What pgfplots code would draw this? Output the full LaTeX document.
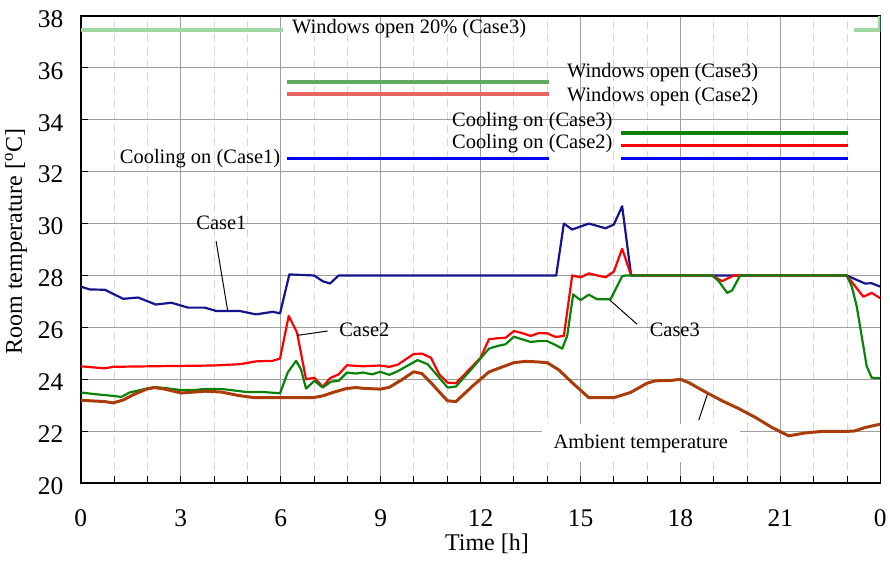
\documentclass[border=0pt]{standalone}
\usepackage{pgfplots}
\pgfplotsset{compat=1.18}
\usepackage{fontspec}
\setmainfont{Liberation Serif}
\definecolor{cnavy}{RGB}{20,20,140}
\definecolor{cred}{RGB}{255,0,0}
\definecolor{cgreen}{RGB}{10,130,10}
\definecolor{cbrown}{RGB}{170,60,10}
\definecolor{winA}{RGB}{160,215,160}
\definecolor{winB}{RGB}{95,170,95}
\definecolor{winC}{RGB}{232,100,100}
\begin{document}
\begin{tikzpicture}
\begin{axis}[
  scale only axis, width=801pt, height=468pt,
  xmin=0, xmax=24, ymin=20, ymax=38,
  xtick={0,3,...,24}, xticklabels={0,3,6,9,12,15,18,21,0},
  minor x tick num=2,
  ytick={20,22,...,38},
  tick pos=left,
  major tick length=7pt, minor tick length=7pt,
  every tick/.style={black, line width=1pt},
  grid=both,
  major grid style={draw=black!38, line width=1.1pt},
  minor grid style={draw=black!16, line width=1pt, dash pattern=on 8pt off 5pt},
  axis line style={black, line width=1.6pt},
  tick label style={font=\fontsize{25.5}{25.5}\selectfont},
  /pgf/number format/assume math mode=true,
  xticklabel style={yshift=-23pt},
  yticklabel style={xshift=-14pt, yshift=-3pt},
  xlabel={Time [h]},
  ylabel={Room temperature [\textsuperscript{o}C]},
  label style={font=\fontsize{24}{24}\selectfont},
  xlabel style={at={(axis description cs:0.508,-0.131)}, anchor=center},
  ylabel style={at={(axis description cs:-0.0811,0.517)}, anchor=center},
  every axis plot/.append style={line join=round},
]
% schedule lines
\addplot[winA, line width=4pt] coordinates {(0,37.46) (6.06,37.46)};
\addplot[winA, line width=4pt] coordinates {(23.2,37.46) (24,37.46) (24,38)};
\addplot[winB, line width=4pt] coordinates {(6.2,35.47) (14.05,35.47)};
\addplot[winC, line width=4.5pt] coordinates {(6.2,34.99) (14.05,34.99)};
\addplot[blue, line width=3.5pt] coordinates {(6.2,32.5) (14.05,32.5)};
\addplot[blue, line width=3.5pt] coordinates {(16.23,32.5) (23.02,32.5)};
\addplot[cred, line width=3.5pt] coordinates {(16.23,33.01) (23.02,33.01)};
\addplot[cgreen, line width=3.5pt] coordinates {(16.23,33.49) (23.02,33.49)};
% Case1
\addplot[cnavy, line width=2.2pt] table {
0 27.57
0.27 27.46
0.72 27.45
1.27 27.10
1.72 27.15
2.25 26.88
2.72 26.95
3.22 26.76
3.72 26.76
4.07 26.63
4.77 26.63
5.26 26.50
5.76 26.60
5.98 26.54
6.26 28.04
7.00 28.00
7.26 27.78
7.48 27.69
7.74 28.00
14.27 28.00
14.50 30.00
14.75 29.77
15.25 30.00
15.75 29.82
16.00 29.96
16.25 30.67
16.52 28.00
22.99 28.00
23.54 27.69
23.74 27.70
24.00 27.57
};
% Case2
\addplot[cred, line width=2.2pt] table {
0 24.50
0.72 24.42
0.97 24.48
2.67 24.51
3.97 24.53
4.77 24.58
5.26 24.69
5.76 24.71
5.98 24.80
6.24 26.44
6.49 25.80
6.76 24.00
7.01 24.06
7.26 23.71
7.48 24.04
7.74 24.19
7.99 24.54
8.46 24.50
8.96 24.53
9.26 24.48
9.51 24.56
9.99 24.97
10.24 24.99
10.51 24.83
10.76 24.19
11.01 23.87
11.26 23.85
11.76 24.51
12.00 24.83
12.25 25.54
12.50 25.58
12.75 25.60
13.00 25.86
13.25 25.78
13.50 25.67
13.75 25.78
14.00 25.77
14.25 25.63
14.50 25.67
14.75 28.00
15.00 27.93
15.25 28.08
15.50 28.00
15.75 27.93
16.00 28.15
16.25 29.03
16.52 28.00
18.95 28.00
19.25 27.78
19.60 28.00
22.99 28.00
23.24 27.59
23.49 27.18
23.74 27.33
24.00 27.12
};
% Case3
\addplot[cgreen, line width=2.2pt] table {
0 23.49
0.47 23.42
0.97 23.36
1.22 23.32
1.46 23.49
1.97 23.64
2.22 23.70
2.47 23.67
2.97 23.59
3.46 23.59
3.72 23.63
4.21 23.63
4.46 23.59
4.96 23.51
5.46 23.51
5.98 23.46
6.21 24.26
6.46 24.71
6.61 24.38
6.76 23.64
7.01 23.94
7.26 23.68
7.51 23.91
7.74 23.94
7.99 24.26
8.25 24.22
8.46 24.26
8.75 24.19
8.99 24.29
9.26 24.17
9.51 24.31
9.76 24.49
10.11 24.74
10.41 24.58
10.76 24.06
11.01 23.68
11.26 23.72
11.76 24.44
12.25 25.18
12.50 25.28
12.75 25.35
13.00 25.64
13.25 25.54
13.50 25.44
13.75 25.47
14.00 25.47
14.25 25.32
14.45 25.18
14.60 25.67
14.78 27.27
15.00 27.05
15.25 27.26
15.50 27.08
15.90 27.08
16.25 27.97
16.35 28.00
18.95 28.00
19.15 27.78
19.40 27.33
19.55 27.42
19.79 28.00
22.99 28.00
23.14 27.59
23.29 26.82
23.44 25.67
23.59 24.51
23.74 24.06
24.00 24.04
};
% Ambient
\addplot[cbrown, line width=3pt] table {
0 23.19
0.72 23.14
0.97 23.09
1.27 23.20
1.57 23.40
1.97 23.62
2.22 23.68
2.52 23.62
3.02 23.47
3.72 23.54
4.21 23.51
4.71 23.38
5.21 23.29
6.96 23.29
7.26 23.36
7.56 23.49
7.96 23.64
8.25 23.68
8.50 23.65
8.99 23.62
9.26 23.69
9.66 24.00
9.99 24.29
10.24 24.22
10.51 23.87
10.76 23.51
11.01 23.17
11.26 23.14
11.76 23.74
12.25 24.28
12.60 24.45
13.00 24.64
13.35 24.69
13.70 24.67
14.00 24.64
14.35 24.36
14.75 23.87
15.25 23.29
16.00 23.29
16.50 23.49
17.00 23.85
17.25 23.94
17.75 23.96
18.00 24.00
18.25 23.87
18.75 23.51
19.25 23.17
19.75 22.87
20.25 22.53
20.75 22.14
21.25 21.82
21.74 21.93
22.24 21.99
22.99 21.99
23.24 22.01
23.54 22.14
24.00 22.27
};
% annotations
\begin{scope}[every node/.style={font=\fontsize{20.5}{20.5}\selectfont, inner sep=0pt}]
\node[anchor=west] at (axis cs:6.34,37.5) {Windows open 20\% (Case3)};
\node[anchor=west] at (axis cs:14.59,35.8) {Windows open (Case3)};
\node[anchor=west] at (axis cs:14.59,34.9) {Windows open (Case2)};
\node[anchor=west] at (axis cs:11.14,33.93) {Cooling on (Case3)};
\node[anchor=west] at (axis cs:11.14,33.08) {Cooling on (Case2)};
\node[anchor=east] at (axis cs:5.99,32.49) {Cooling on (Case1)};
\draw[black, line width=1pt] (axis cs:4.06,29.32) -- (axis cs:4.41,26.63);
\node at (axis cs:4.22,30.04) {Case1};
\draw[black, line width=1pt] (axis cs:7.41,25.86) -- (axis cs:6.49,25.69);
\node at (axis cs:8.51,25.9) {Case2};
\draw[black, line width=1pt] (axis cs:16.70,26.12) -- (axis cs:15.88,27.05);
\node at (axis cs:17.83,25.92) {Case3};
\draw[black, line width=1pt] (axis cs:18.55,22.43) -- (axis cs:18.81,23.42);
\node[fill=white, inner xsep=12pt, inner ysep=10pt] at (axis cs:16.81,21.54) {Ambient temperature};
\end{scope}
\end{axis}
\path[use as bounding box] (-81pt,-78pt) rectangle (809pt,468pt+16pt);
\end{tikzpicture}
\end{document}
